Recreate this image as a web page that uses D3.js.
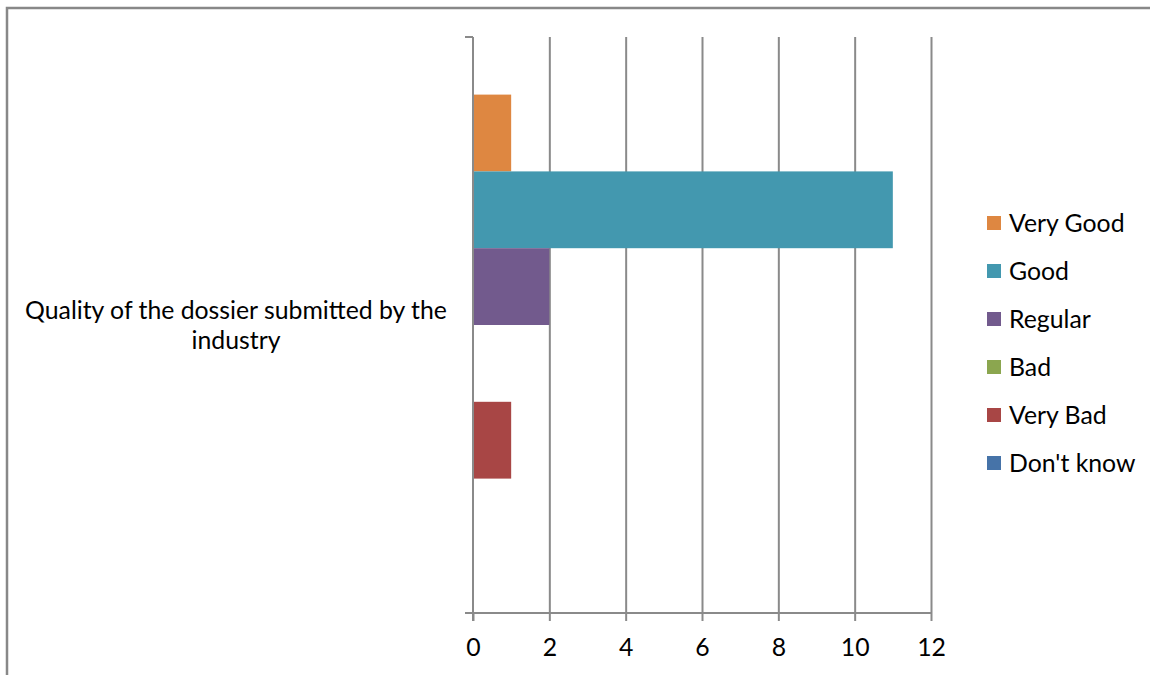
<!DOCTYPE html>
<html>
<head>
<meta charset="utf-8">
<script src="https://cdnjs.cloudflare.com/ajax/libs/d3/7.8.5/d3.min.js"></script>
<style>
  html, body { margin: 0; padding: 0; background: #fff; }
  svg { display: block; }
  text { font-family: Lato, "Open Sans", sans-serif; fill: #000; }
</style>
</head>
<body>
<svg id="chart" width="1150" height="675"></svg>
<script>
// Survey answers for one question, one bar per answer
const category = "Quality of the dossier submitted by the industry";
const categoryLines = ["Quality of the dossier submitted by the", "industry"];
const seriesNames = ["Very Good", "Good", "Regular", "Bad", "Very Bad", "Don't know"];
const seriesValues = [1, 11, 2, 0, 1, 0];
const seriesColors = ["#DE8741", "#4398AF", "#725A8D", "#8BA64F", "#A84645", "#4673A8"];
const xTicks = [0, 2, 4, 6, 8, 10, 12];

const W = 1150, H = 675;
const plot = { left: 473, right: 931, top: 37, bottom: 613 };
const gridColor = "#8A8A8A";
const fontSize = 24.8;

const svg = d3.select("#chart");

// outer frame (top and left edges visible)
svg.append("path")
  .attr("d", `M7,${H} V8 H${W}`)
  .attr("fill", "none")
  .attr("stroke", "#888")
  .attr("stroke-width", 2.5);

const x = d3.scaleLinear().domain([0, 12]).range([plot.left, plot.right]);
const y = d3.scaleBand()
  .domain(seriesNames)
  .range([plot.top, plot.bottom])
  .paddingInner(0)
  .paddingOuter(0.75);

// vertical gridlines
svg.append("g")
  .attr("transform", `translate(0,${plot.bottom})`)
  .call(d3.axisBottom(x).tickValues(xTicks.slice(1)).tickSize(-(plot.bottom - plot.top)).tickFormat(""))
  .call(g => g.select(".domain").remove())
  .call(g => g.selectAll("line").attr("stroke", gridColor).attr("stroke-width", 2));

// bars
svg.append("g")
  .selectAll("rect")
  .data(seriesNames.map((n, i) => ({ name: n, value: seriesValues[i], color: seriesColors[i] })))
  .join("rect")
  .attr("x", x(0))
  .attr("y", d => y(d.name))
  .attr("width", d => x(d.value) - x(0))
  .attr("height", y.bandwidth())
  .attr("fill", d => d.color);

// value axis along the bottom
const xAxis = svg.append("g")
  .attr("transform", `translate(0,${plot.bottom})`)
  .call(d3.axisBottom(x).tickValues(xTicks).tickSize(8).tickSizeOuter(0).tickPadding(17));
xAxis.select(".domain").remove();
xAxis.selectAll("line").attr("stroke", gridColor).attr("stroke-width", 2);
xAxis.selectAll("text")
  .style("font-size", fontSize + "px")
  .attr("fill", "#000");

// category axis: vertical line with boundary ticks
const catAxis = svg.append("g");
catAxis.append("line")
  .attr("x1", plot.left - 8).attr("x2", plot.right)
  .attr("y1", plot.bottom).attr("y2", plot.bottom)
  .attr("stroke", gridColor).attr("stroke-width", 2);
catAxis.append("line")
  .attr("x1", x(0)).attr("x2", x(0))
  .attr("y1", plot.top).attr("y2", plot.bottom + 8)
  .attr("stroke", gridColor).attr("stroke-width", 2);
catAxis.append("line")
  .attr("x1", plot.left - 8).attr("x2", x(0))
  .attr("y1", plot.top).attr("y2", plot.top)
  .attr("stroke", gridColor).attr("stroke-width", 2);

// category label, wrapped over two lines
const catMid = (plot.top + plot.bottom) / 2;
const catText = svg.append("text")
  .attr("text-anchor", "middle")
  .style("font-size", fontSize + "px")
  .attr("aria-label", category);
categoryLines.forEach((line, i) => {
  catText.append("tspan")
    .attr("x", 236)
    .attr("y", catMid - 6 + i * 30)
    .text(line);
});

// legend
const legend = svg.append("g").attr("transform", "translate(987,223)");
const rows = legend.selectAll("g")
  .data(seriesNames)
  .join("g")
  .attr("transform", (d, i) => `translate(0,${i * 48})`);
rows.append("rect")
  .attr("x", 0).attr("y", -7)
  .attr("width", 14).attr("height", 14)
  .attr("fill", (d, i) => seriesColors[i]);
rows.append("text")
  .attr("x", 22).attr("y", 0)
  .attr("dy", "0.35em")
  .style("font-size", fontSize + "px")
  .text(d => d);
</script>
</body>
</html>
